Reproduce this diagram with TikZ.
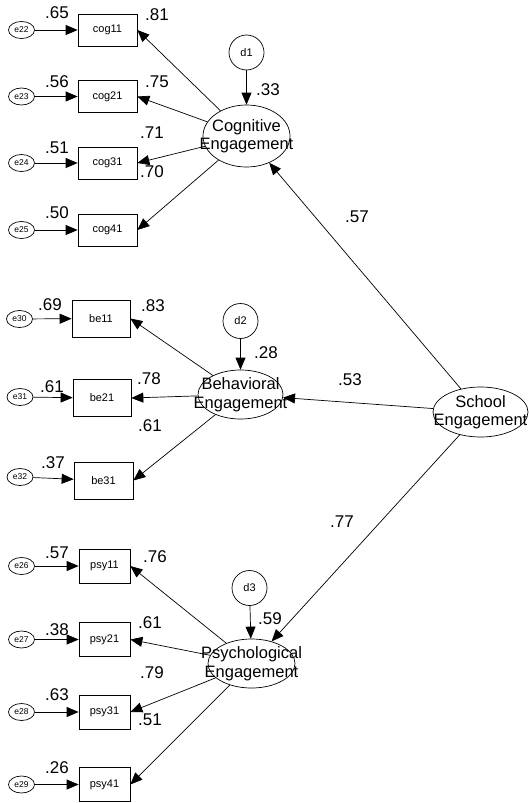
\documentclass[tikz,border=0pt]{standalone}
\usepackage{fontspec}
\setmainfont{Liberation Sans}
\usetikzlibrary{shapes.geometric,arrows.meta}
\begin{document}
\begin{tikzpicture}[x=1pt,y=-1pt,
  obs/.style={draw, rectangle, minimum width=59pt, minimum height=32pt, inner sep=0pt, line width=0.7pt, font=\fontsize{11}{13}\selectfont},
  err/.style={draw, ellipse, minimum width=26pt, minimum height=17pt, inner sep=0pt, line width=0.7pt, font=\fontsize{8.5}{9}\selectfont},
  dist/.style={draw, circle, minimum size=35pt, inner sep=0pt, line width=0.7pt, font=\fontsize{11}{12}\selectfont},
  lat/.style={draw, ellipse, inner sep=0pt, line width=0.7pt},
  lattxt/.style={align=center, inner sep=0pt, font=\fontsize{16.5}{18.5}\selectfont},
  lbl/.style={inner sep=0pt, font=\fontsize{17}{19}\selectfont},
  arr/.style={-{Triangle[length=12pt,width=10pt]}, line width=0.7pt}
]
\useasboundingbox (0,0) rectangle (529,803);

% ---------- Cognitive ----------
\node[obs] (cog11) at (107.5,30) {cog11};
\node[obs] (cog21) at (107.5,96.5) {cog21};
\node[obs] (cog31) at (107.5,163) {cog31};
\node[obs] (cog41) at (107.5,230) {cog41};
\node[err] (e22) at (21.5,30) {e22};
\node[err] (e23) at (21.5,96.5) {e23};
\node[err] (e24) at (21.5,163) {e24};
\node[err] (e25) at (21.5,230) {e25};
\node[dist] (d1) at (246.5,52.5) {d1};
\node[lat, minimum width=87pt, minimum height=62pt] (cog) at (246.5,136) {};
\node[lattxt] (cogtxt) at (cog) {Cognitive\\Engagement};

% ---------- Behavioral ----------
\node[obs, minimum width=58pt, minimum height=37pt] (be11) at (101,318.5) {be11};
\node[obs, minimum width=58pt, minimum height=37pt] (be21) at (102,398) {be21};
\node[obs, minimum width=59pt, minimum height=37pt] (be31) at (103.5,480.5) {be31};
\node[err] (e30) at (19.5,319) {e30};
\node[err] (e31) at (20,397) {e31};
\node[err] (e32) at (20,477) {e32};
\node[dist] (d2) at (240.5,321) {d2};
\node[lat, minimum width=85pt, minimum height=49pt] (beh) at (240.5,394.5) {};
\node[lattxt] (behtxt) at (beh) {Behavioral\\Engagement};

% ---------- Psychological ----------
\node[obs, minimum width=51pt, minimum height=34pt] (psy11) at (104.5,566) {psy11};
\node[obs, minimum width=51pt, minimum height=34pt] (psy21) at (104.5,639.5) {psy21};
\node[obs, minimum width=51pt, minimum height=34pt] (psy31) at (104.5,712) {psy31};
\node[obs, minimum width=51pt, minimum height=34pt] (psy41) at (104.5,784.5) {psy41};
\node[err] (e26) at (21.5,566) {e26};
\node[err] (e27) at (21.5,639.5) {e27};
\node[err] (e28) at (21.5,712) {e28};
\node[err] (e29) at (21.5,784.5) {e29};
\node[dist] (d3) at (249.5,588) {d3};
\node[lat, minimum width=87pt, minimum height=49pt] (psy) at (251.5,663.5) {};
\node[lattxt] (psytxt) at (psy) {Psychological\\Engagement};

% ---------- School ----------
\node[lat, minimum width=95pt, minimum height=50pt] (sch) at (480.5,412) {};
\node[lattxt] (schtxt) at (sch) {School\\Engagement};

% ---------- arrows ----------
\foreach \e/\o in {e22/cog11,e23/cog21,e24/cog31,e25/cog41,e30/be11,e31/be21,e32/be31,e26/psy11,e27/psy21,e28/psy31,e29/psy41}
  \draw[arr] (\e) -- (\o);
\foreach \o in {cog11,cog21,cog31,cog41} \draw[arr] (cog) -- (\o.east);
\foreach \o in {be11,be21,be31} \draw[arr] (beh) -- (\o.east);
\foreach \o in {psy11,psy21,psy31,psy41} \draw[arr] (psy) -- (\o.east);
\draw[arr] (d1) -- (cog);
\draw[arr] (d2) -- (beh);
\draw[arr] (d3) -- (psy);
\draw[arr] (sch) -- (cog);
\draw[arr] (sch) -- (beh);
\draw[arr] (sch) -- (psy);

% ---------- labels ----------
\node[lbl] (l1) at (57,13) {.65};
\node[lbl] (l2) at (157,15) {.81};
\node[lbl] (l3) at (57,82) {.56};
\node[lbl] (l4) at (157,82) {.75};
\node[lbl] (l5) at (152,133) {.71};
\node[lbl] (l6) at (57,148) {.51};
\node[lbl] (l7) at (152,172) {.70};
\node[lbl] (l8) at (57,213) {.50};
\node[lbl] (l9) at (268,90) {.33};

\node[lbl] (l10) at (50,305) {.69};
\node[lbl] (l11) at (153,306) {.83};
\node[lbl] (l12) at (149,379) {.78};
\node[lbl] (l13) at (52,387) {.61};
\node[lbl] (l14) at (150,426) {.61};
\node[lbl] (l15) at (53,463) {.37};
\node[lbl] (l16) at (266,353) {.28};

\node[lbl] (l17) at (57,553) {.57};
\node[lbl] (l18) at (155,557) {.76};
\node[lbl] (l19) at (57,630) {.38};
\node[lbl] (l20) at (150,623) {.61};
\node[lbl] (l21) at (152,673) {.79};
\node[lbl] (l22) at (57,695) {.63};
\node[lbl] (l23) at (150,720) {.51};
\node[lbl] (l24) at (57,768) {.26};
\node[lbl] (l25) at (270,619) {.59};

\node[lbl] (l26) at (357,217) {.57};
\node[lbl] (l27) at (350,380) {.53};
\node[lbl] (l28) at (342,522) {.77};
\end{tikzpicture}
\end{document}
